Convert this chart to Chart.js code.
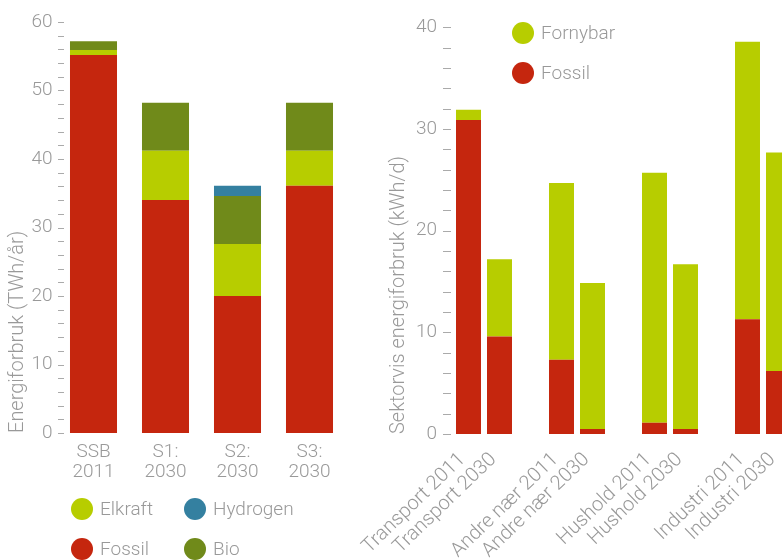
<!DOCTYPE html>
<html>
<head>
<meta charset="utf-8">
<script src="https://cdn.jsdelivr.net/npm/chart.js@4.4.1/dist/chart.umd.min.js"></script>
<style>
  html, body { margin: 0; padding: 0; width: 782px; height: 560px; overflow: hidden; background: #fff; }
  body { position: relative; font-family: Roboto, 'Liberation Sans', sans-serif; font-weight: 300; color: #999; }
  #left-chart { position: absolute; left: 0; top: 0; }
  #right-chart { position: absolute; left: 300px; top: 0; }
  .legend { position: absolute; display: grid; row-gap: 18px; }
  #left-legend { left: 71px; top: 498px; grid-template-columns: 113px auto; }
  #right-legend { left: 512px; top: 22px; grid-template-columns: auto; }
  .legend-item { display: flex; align-items: center; font-size: 19px; line-height: 22px; height: 22px; }
  .dot { width: 22px; height: 22px; border-radius: 50%; margin-right: 7px; flex: none; }
</style>
</head>
<body>
<canvas id="left-chart" width="380" height="560"></canvas>
<canvas id="right-chart" width="500" height="560"></canvas>
<div id="left-legend" class="legend"></div>
<div id="right-legend" class="legend"></div>
<script>
// venstre: energiforbruk per scenario (TWh/år)
const scenarioLabels = [['SSB', '2011'], ['S1:', '2030'], ['S2:', '2030'], ['S3:', '2030']];
const fossilTWh = [55.2, 34.0, 20.0, 36.1];
const elkraftTWh = [0.7, 7.2, 7.6, 5.1];
const bioTWh = [1.3, 7.0, 7.0, 7.0];
const hydrogenTWh = [0, 0, 1.5, 0];
const leftTicks = { min: 0, max: 60, step: 2, labelEvery: 10 };

// høyre: sektorvis energiforbruk (kWh/d), tomme plasser mellom gruppene
const sectorLabels = [
  'Transport 2011', 'Transport 2030', '',
  'Andre nær 2011', 'Andre nær 2030', '',
  'Hushold 2011', 'Hushold 2030', '',
  'Industri 2011', 'Industri 2030',
];
const fossilKWh = [30.9, 9.6, null, 7.3, 0.5, null, 1.1, 0.5, null, 11.3, 6.2];
const fornybarKWh = [1.0, 7.6, null, 17.4, 14.35, null, 24.6, 16.2, null, 27.3, 21.5];
const rightTicks = { min: 0, max: 40, step: 2, labelEvery: 10 };

const colors = {
  fossil: '#c5260e',
  elkraft: '#b7cd00',
  bio: '#708a1a',
  hydrogen: '#3480a0',
  fornybar: '#b7cd00',
  text: '#999',
  dash: '#aaa',
};

const fontFamily = "Roboto, 'Liberation Sans', sans-serif";

// korte streker ved hver y-tick
const tickDashes = {
  id: 'tickDashes',
  afterDraw(chart, args, opts) {
    const scale = chart.scales.y;
    const ctx = chart.ctx;
    const x0 = chart.chartArea.left + opts.from;
    const x1 = chart.chartArea.left + opts.to;
    ctx.save();
    ctx.strokeStyle = colors.dash;
    ctx.lineWidth = 1;
    scale.ticks.forEach((tick) => {
      const y = Math.round(scale.getPixelForValue(tick.value)) + 0.5;
      ctx.beginPath();
      ctx.moveTo(x0, y);
      ctx.lineTo(x1, y);
      ctx.stroke();
    });
    ctx.restore();
  },
};

function yAxis(ticks, width, title, titlePad, labelPad) {
  return {
    stacked: true,
    min: ticks.min,
    max: ticks.max,
    grid: { display: false, drawTicks: false },
    border: { display: false },
    ticks: {
      stepSize: ticks.step,
      autoSkip: false,
      maxTicksLimit: 100,
      padding: labelPad,
      color: colors.text,
      font: { family: fontFamily, size: 19, weight: '300' },
      callback: (value) => (value % ticks.labelEvery === 0 ? value : ''),
    },
    title: {
      display: true,
      text: title,
      align: 'start',
      color: colors.text,
      padding: { top: titlePad, bottom: 0 },
      font: { family: fontFamily, size: 20, weight: '300' },
    },
    afterFit: (scale) => { scale.width = width; },
  };
}

function barDataset(label, data, color, barPercentage) {
  return {
    label,
    data,
    backgroundColor: color,
    borderWidth: 0,
    barPercentage,
    categoryPercentage: 1,
  };
}

const leftChart = new Chart(document.getElementById('left-chart'), {
  type: 'bar',
  data: {
    labels: scenarioLabels,
    datasets: [
      barDataset('Fossil', fossilTWh, colors.fossil, 0.653),
      barDataset('Elkraft', elkraftTWh, colors.elkraft, 0.653),
      barDataset('Bio', bioTWh, colors.bio, 0.653),
      barDataset('Hydrogen', hydrogenTWh, colors.hydrogen, 0.653),
    ],
  },
  options: {
    responsive: false,
    animation: false,
    events: [],
    layout: { padding: { top: 22, right: 34.5, bottom: 0, left: 0 } },
    scales: {
      x: {
        stacked: true,
        grid: { display: false, drawTicks: false },
        border: { display: false },
        ticks: {
          padding: 9,
          color: colors.text,
          font: { family: fontFamily, size: 19, weight: '300', lineHeight: '20px' },
        },
        afterFit: (scale) => { scale.height = 127; },
      },
      y: yAxis(leftTicks, 57.5, 'Energiforbruk (TWh/år)', 6, 5),
    },
    plugins: {
      legend: { display: false },
      tooltip: { enabled: false },
      tickDashes: { from: 0.5, to: 6.5 },
    },
  },
  plugins: [tickDashes],
});

const rightChart = new Chart(document.getElementById('right-chart'), {
  type: 'bar',
  data: {
    labels: sectorLabels,
    datasets: [
      barDataset('Fossil', fossilKWh, colors.fossil, 0.806),
      barDataset('Fornybar', fornybarKWh, colors.fornybar, 0.806),
    ],
  },
  options: {
    responsive: false,
    animation: false,
    events: [],
    layout: { padding: { top: 22, right: 6, bottom: 0, left: 80 } },
    scales: {
      x: {
        stacked: true,
        grid: { display: false, drawTicks: false },
        border: { display: false },
        ticks: {
          autoSkip: false,
          minRotation: 44,
          maxRotation: 44,
          padding: 14,
          labelOffset: -6,
          color: colors.text,
          font: { family: fontFamily, size: 20, weight: '300' },
        },
        afterFit: (scale) => {
          scale.height = 126;
          scale.paddingLeft = 0;
          scale.paddingRight = 0;
        },
      },
      y: yAxis(rightTicks, 73, 'Sektorvis energiforbruk (kWh/d)', 7, 16),
    },
    plugins: {
      legend: { display: false },
      tooltip: { enabled: false },
      tickDashes: { from: -10, to: -2 },
    },
  },
  plugins: [tickDashes],
});

function buildLegend(el, chart, order) {
  order.forEach((name) => {
    const ds = chart.data.datasets.find((d) => d.label === name);
    if (!ds) return;
    const item = document.createElement('div');
    item.className = 'legend-item';
    const dot = document.createElement('span');
    dot.className = 'dot';
    dot.style.background = ds.backgroundColor;
    const text = document.createElement('span');
    text.textContent = ds.label;
    item.appendChild(dot);
    item.appendChild(text);
    el.appendChild(item);
  });
}

buildLegend(document.getElementById('left-legend'), leftChart, ['Elkraft', 'Hydrogen', 'Fossil', 'Bio']);
buildLegend(document.getElementById('right-legend'), rightChart, ['Fornybar', 'Fossil']);
</script>
</body>
</html>
